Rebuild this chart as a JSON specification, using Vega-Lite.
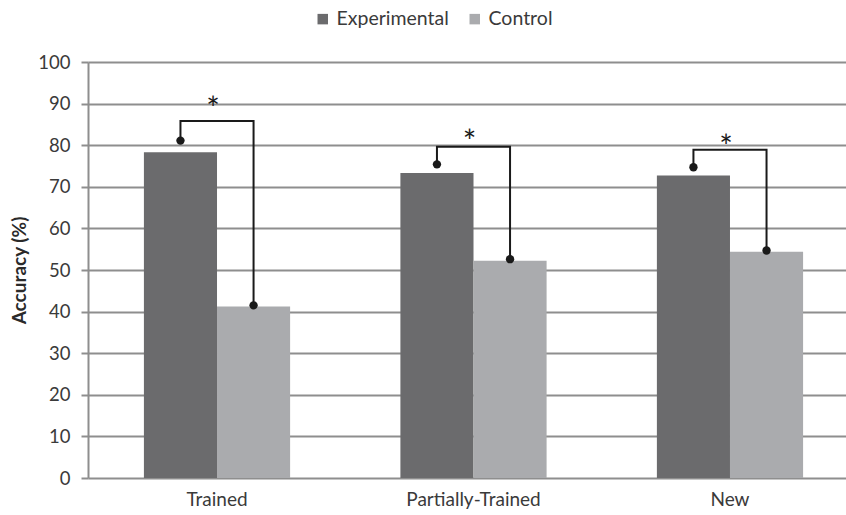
{
  "$schema": "https://vega.github.io/schema/vega-lite/v6.json",
  "autosize": {"type": "none"},
  "padding": {"left": 88, "top": 62, "right": 0, "bottom": 37},
  "width": 758,
  "height": 416,
  "background": "white",
  "config": {
    "view": {"stroke": null},
    "font": "Lato",
    "axis": {"labelFont": "Lato", "titleFont": "Lato"}
  },
  "datasets": {
    "bars": [
      {"cat": "Trained", "series": "Experimental", "acc": 78.3},
      {"cat": "Trained", "series": "Control", "acc": 41.2},
      {"cat": "Partially-Trained", "series": "Experimental", "acc": 73.3},
      {"cat": "Partially-Trained", "series": "Control", "acc": 52.2},
      {"cat": "New", "series": "Experimental", "acc": 72.7},
      {"cat": "New", "series": "Control", "acc": 54.4}
    ],
    "bracket": [
      {"cat": "Trained", "series": "Experimental", "y": 81.1, "ord": 1},
      {"cat": "Trained", "series": "Experimental", "y": 85.8, "ord": 2},
      {"cat": "Trained", "series": "Control", "y": 85.8, "ord": 3},
      {"cat": "Trained", "series": "Control", "y": 41.5, "ord": 4},
      {"cat": "Partially-Trained", "series": "Experimental", "y": 75.4, "ord": 1},
      {"cat": "Partially-Trained", "series": "Experimental", "y": 79.6, "ord": 2},
      {"cat": "Partially-Trained", "series": "Control", "y": 79.6, "ord": 3},
      {"cat": "Partially-Trained", "series": "Control", "y": 52.6, "ord": 4},
      {"cat": "New", "series": "Experimental", "y": 74.7, "ord": 1},
      {"cat": "New", "series": "Experimental", "y": 78.9, "ord": 2},
      {"cat": "New", "series": "Control", "y": 78.9, "ord": 3},
      {"cat": "New", "series": "Control", "y": 54.7, "ord": 4}
    ],
    "dots": [
      {"cat": "Trained", "series": "Experimental", "y": 81.1},
      {"cat": "Trained", "series": "Control", "y": 41.5},
      {"cat": "Partially-Trained", "series": "Experimental", "y": 75.4},
      {"cat": "Partially-Trained", "series": "Control", "y": 52.6},
      {"cat": "New", "series": "Experimental", "y": 74.7},
      {"cat": "New", "series": "Control", "y": 54.7}
    ],
    "stars": [
      {"cat": "Trained", "y": 90.3, "label": "*"},
      {"cat": "Partially-Trained", "y": 82.4, "label": "*"},
      {"cat": "New", "y": 81.2, "label": "*"}
    ]
  },
  "encoding": {
    "x": {
      "field": "cat",
      "type": "nominal",
      "sort": ["Trained", "Partially-Trained", "New"],
      "scale": {"range": [0, 771], "paddingInner": 0.43, "paddingOuter": 0.218},
      "axis": {
        "title": null,
        "domain": false,
        "ticks": false,
        "labelAngle": 0,
        "labelFontSize": 19,
        "labelColor": "#3a3a3a",
        "labelPadding": 12
      }
    }
  },
  "layer": [
    {
      "data": {"name": "bars"},
      "mark": {"type": "bar"},
      "encoding": {
        "xOffset": {"field": "series", "type": "nominal", "sort": ["Experimental", "Control"], "scale": {"paddingInner": 0, "paddingOuter": 0}},
        "y": {
          "field": "acc",
          "type": "quantitative",
          "scale": {"domain": [0, 100], "nice": false},
          "axis": {
            "title": "Accuracy (%)",
            "titleFontSize": 19,
            "titleFontWeight": "bold",
            "titleColor": "#2a2a2a",
            "titlePadding": 8,
            "values": [0, 10, 20, 30, 40, 50, 60, 70, 80, 90, 100],
            "labelFontSize": 18.5,
            "labelColor": "#3a3a3a",
            "labelPadding": 11,
            "tickSize": 7,
            "tickColor": "#8e8e8e",
            "tickWidth": 2,
            "domainColor": "#8e8e8e",
            "domainWidth": 2,
            "grid": true,
            "gridColor": "#8e8e8e",
            "gridWidth": 2
          }
        },
        "color": {
          "field": "series",
          "type": "nominal",
          "sort": ["Experimental", "Control"],
          "scale": {"domain": ["Experimental", "Control"], "range": ["#6b6b6d", "#aaabae"]},
          "legend": {
            "title": null,
            "orient": "none",
            "direction": "horizontal",
            "legendX": 225,
            "legendY": -53,
            "symbolType": "square",
            "symbolSize": 110,
            "symbolStrokeWidth": 0,
            "labelFontSize": 19.5,
            "labelColor": "#3a3a3a",
            "columnPadding": 16,
            "labelOffset": 4
          }
        }
      }
    },
    {
      "data": {"name": "bracket"},
      "mark": {"type": "line", "color": "#1a1a1a", "strokeWidth": 2, "dx": -4, "interpolate": "linear"},
      "encoding": {
        "xOffset": {"field": "series", "type": "nominal", "sort": ["Experimental", "Control"]},
        "y": {"field": "y", "type": "quantitative"},
        "detail": {"field": "cat"},
        "order": {"field": "ord", "type": "quantitative"}
      }
    },
    {
      "data": {"name": "dots"},
      "mark": {"type": "point", "filled": true, "color": "#1a1a1a", "size": 70, "opacity": 1, "dx": -4},
      "encoding": {
        "xOffset": {"field": "series", "type": "nominal", "sort": ["Experimental", "Control"]},
        "y": {"field": "y", "type": "quantitative"}
      }
    },
    {
      "data": {"name": "stars"},
      "mark": {"type": "text", "fontSize": 32, "color": "#1a1a1a", "baseline": "middle", "dx": -4, "dy": 8},
      "encoding": {
        "y": {"field": "y", "type": "quantitative"},
        "text": {"field": "label"}
      }
    }
  ]
}
